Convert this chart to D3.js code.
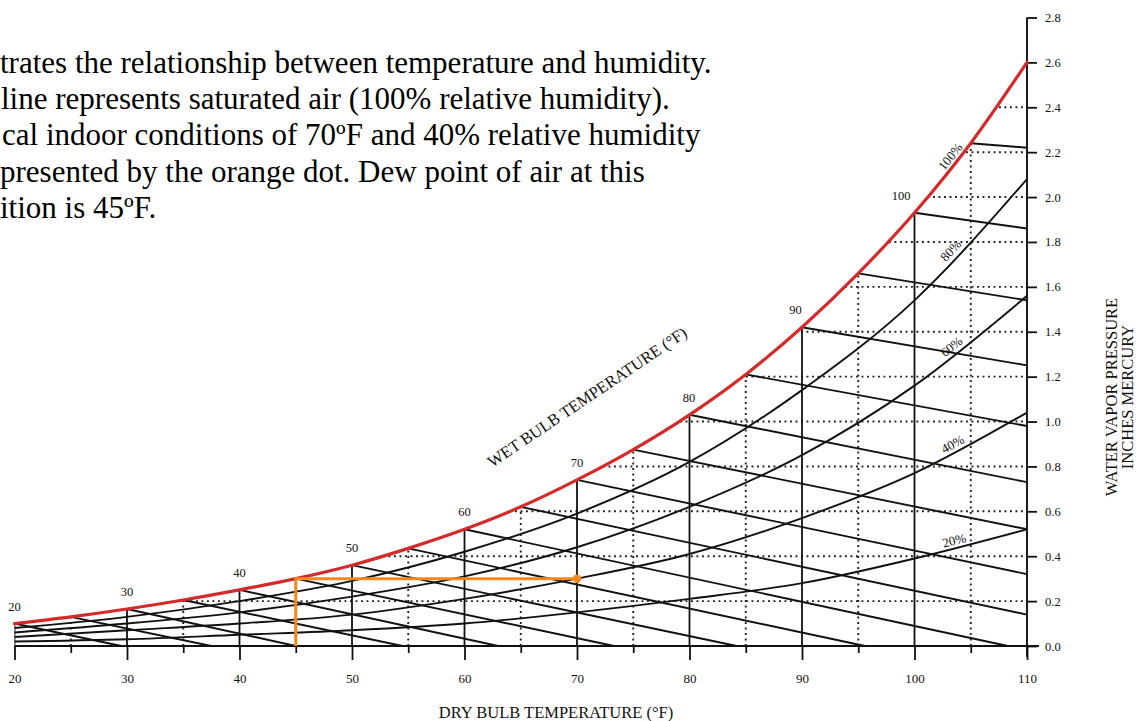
<!DOCTYPE html>
<html>
<head>
<meta charset="utf-8">
<script src="https://cdn.jsdelivr.net/npm/d3@7"></script>
<style>
  body { margin: 0; background: #fff; }
  svg { display: block; font-family: "Liberation Serif", "Times New Roman", serif; }
</style>
</head>
<body>
<svg id="chart" width="1139" height="721"></svg>
<script>
// ---- data ----
const dryBulb    = [20, 25, 30, 35, 40, 45, 50, 55, 60, 65, 70, 75, 80, 85, 90, 95, 100, 105, 110];
const saturation = [0.10, 0.13, 0.165, 0.205, 0.25, 0.30, 0.36, 0.435, 0.52, 0.62, 0.74, 0.875, 1.03, 1.21, 1.42, 1.66, 1.93, 2.24, 2.60];

// relative humidity curves, every 10 °F
const rhTemps = [20, 30, 40, 50, 60, 70, 80, 90, 100, 110];
const rh80 = [0.08, 0.13, 0.20, 0.29, 0.42, 0.59, 0.82, 1.14, 1.54, 2.08];
const rh60 = [0.06, 0.10, 0.15, 0.22, 0.31, 0.44, 0.62, 0.85, 1.16, 1.56];
const rh40 = [0.04, 0.07, 0.10, 0.14, 0.21, 0.30, 0.41, 0.57, 0.77, 1.04];
const rh20 = [0.02, 0.03, 0.05, 0.07, 0.10, 0.15, 0.21, 0.28, 0.39, 0.52];
const rhNames = ["80%", "60%", "40%", "20%"];

// wet bulb lines: start on the saturation curve, end on the base line or the right axis
const wetBulb     = [20, 25, 30, 35, 40, 45, 50, 55, 60, 65, 70, 75, 80, 85, 90, 95, 100, 105];
const wetBulbEndT = [29.5, 37.5, 45, 54.5, 63, 73.3, 84.2, 95.6, 108.3, 110, 110, 110, 110, 110, 110, 110, 110, 110];
const wetBulbEndP = [0, 0, 0, 0, 0, 0, 0, 0, 0, 0.14, 0.32, 0.52, 0.73, 0.98, 1.25, 1.54, 1.86, 2.22];
const wetBulbLabels = [20, 30, 40, 50, 60, 70, 80, 90, 100];

const xMajor = [20, 30, 40, 50, 60, 70, 80, 90, 100, 110];
const xMinor = [25, 35, 45, 55, 65, 75, 85, 95, 105];
const pTicks = [0, 0.2, 0.4, 0.6, 0.8, 1.0, 1.2, 1.4, 1.6, 1.8, 2.0, 2.2, 2.4, 2.6, 2.8];
const pGrid  = [0.2, 0.4, 0.6, 0.8, 1.0, 1.2, 1.4, 1.6, 1.8, 2.0, 2.2, 2.4];

// indoor condition: 70 °F, 40 % RH, dew point 45 °F
const indoorT = 70;
const indoorP = 0.30;
const dewPointT = 45;

const introLines = [
  "trates the relationship between temperature and humidity.",
  "line represents saturated air (100% relative humidity).",
  "cal indoor conditions of 70ºF and 40% relative humidity",
  "presented by the orange dot. Dew point of air at this",
  "ition is 45ºF."
];

// ---- scales ----
const svg = d3.select("#chart");
const x = d3.scaleLinear().domain([20, 110]).range([14.5, 1027]);
const y = d3.scaleLinear().domain([0, 2.8]).range([646, 17.5]);

const satData = dryBulb.map((t, i) => ({ t, p: saturation[i] }));
const rhSeries = [rh80, rh60, rh40, rh20].map(arr => rhTemps.map((t, i) => ({ t, p: arr[i] })));

const line = d3.line().x(d => x(d.t)).y(d => y(d.p)).curve(d3.curveMonotoneX);
const ink = "#111";

// clip: everything under the saturation curve
svg.append("clipPath").attr("id", "under")
  .append("path")
  .attr("d", d3.area().x(d => x(d.t)).y0(721).y1(d => y(d.p)).curve(d3.curveMonotoneX)(satData));

const grid = svg.append("g").attr("clip-path", "url(#under)");

// dotted horizontal lines
grid.selectAll("line.h").data(pGrid).join("line")
  .attr("x1", x(20)).attr("x2", x(110))
  .attr("y1", d => y(d)).attr("y2", d => y(d))
  .attr("stroke", "#222").attr("stroke-width", 1.9)
  .attr("stroke-dasharray", "1.9,3.6");

// dotted verticals at the 5s
grid.selectAll("line.vm").data(xMinor).join("line")
  .attr("x1", d => x(d)).attr("x2", d => x(d))
  .attr("y1", y(0)).attr("y2", 0)
  .attr("stroke", "#222").attr("stroke-width", 1.9)
  .attr("stroke-dasharray", "1.9,3.6");

// solid verticals at the 10s
grid.selectAll("line.v").data(xMajor.slice(0, -1)).join("line")
  .attr("x1", d => x(d)).attr("x2", d => x(d))
  .attr("y1", y(0)).attr("y2", 0)
  .attr("stroke", ink).attr("stroke-width", 1.8);

// relative humidity curves
svg.selectAll("path.rh").data(rhSeries).join("path")
  .attr("d", line)
  .attr("fill", "none").attr("stroke", ink).attr("stroke-width", 1.9);

// wet bulb lines
svg.selectAll("line.wb").data(wetBulb).join("line")
  .attr("x1", d => x(d))
  .attr("y1", d => y(saturation[dryBulb.indexOf(d)]))
  .attr("x2", (d, i) => x(wetBulbEndT[i]))
  .attr("y2", (d, i) => y(wetBulbEndP[i]))
  .attr("stroke", ink).attr("stroke-width", 1.9);

// axes
const xAxisMajor = d3.axisBottom(x).tickValues(xMajor).tickSize(14).tickPadding(14).tickSizeOuter(0);
const xAxisMinor = d3.axisBottom(x).tickValues(xMinor).tickSize(7).tickFormat("").tickSizeOuter(0);
const yAxis = d3.axisRight(y).tickValues(pTicks).tickSize(10).tickPadding(8).tickFormat(d3.format(".1f"));

function styleAxis(g, size) {
  g.select(".domain").remove();
  g.selectAll(".tick line").attr("stroke", ink).attr("stroke-width", 1.8);
  g.selectAll(".tick text").attr("fill", ink)
    .style("font-family", "'Liberation Serif', 'Times New Roman', serif")
    .style("font-size", size + "px");
}

svg.append("g").attr("transform", `translate(0,${y(0)})`).call(xAxisMajor).call(g => styleAxis(g, 13));
svg.append("g").attr("transform", `translate(0,${y(0)})`).call(xAxisMinor).call(g => styleAxis(g, 13));
svg.append("g").attr("transform", `translate(${x(110)},0)`).call(yAxis).call(g => styleAxis(g, 12.5));

// base line and right axis line
svg.append("line")
  .attr("x1", x(20)).attr("x2", x(110) + 12)
  .attr("y1", y(0)).attr("y2", y(0))
  .attr("stroke", ink).attr("stroke-width", 1.9);
svg.append("line")
  .attr("x1", x(110)).attr("x2", x(110))
  .attr("y1", y(2.8)).attr("y2", y(0) + 11)
  .attr("stroke", ink).attr("stroke-width", 1.9);

// saturation curve
svg.append("path").datum(satData)
  .attr("d", line)
  .attr("fill", "none").attr("stroke", "#d52a2a").attr("stroke-width", 3.2)
  .attr("stroke-linecap", "round");

// orange: indoor condition and dew point
const orange = "#f5871f";
svg.append("path")
  .attr("d", `M${x(indoorT)},${y(indoorP)}H${x(dewPointT)}V${y(0)}`)
  .attr("fill", "none").attr("stroke", orange).attr("stroke-width", 3);
svg.append("circle")
  .attr("cx", x(indoorT)).attr("cy", y(indoorP)).attr("r", 4.2)
  .attr("fill", orange);

// wet bulb labels along the saturation curve
svg.selectAll("text.wbl").data(wetBulbLabels).join("text")
  .attr("x", d => {
    const i = dryBulb.indexOf(d);
    const s = (y(saturation[i]) - y(saturation[i + 1])) / (x(dryBulb[i + 1]) - x(dryBulb[i]));
    return x(d) - Math.max(0, s - 0.7) * 25;
  })
  .attr("y", d => y(saturation[dryBulb.indexOf(d)]) - 13)
  .attr("text-anchor", "middle")
  .attr("font-size", 12.5).attr("fill", ink)
  .text(d => d);

// percentage labels near the right end of each curve
const labelT = 103.7;
function curveLabel(t0, p0, t1, p1, txt) {
  const f = (labelT - t0) / (t1 - t0);
  const px = x(labelT), py = y(p0 + f * (p1 - p0));
  const ang = Math.atan2(y(p0) - y(p1), x(t1) - x(t0)) * 180 / Math.PI;
  svg.append("text")
    .attr("transform", `translate(${px},${py}) rotate(${-ang})`)
    .attr("dy", -3)
    .attr("text-anchor", "middle")
    .attr("font-size", 13).attr("fill", ink)
    .text(txt);
}
curveLabel(100, saturation[16], 105, saturation[17], "100%");
rhSeries.forEach((s, k) => curveLabel(s[8].t, s[8].p, s[9].t, s[9].p, rhNames[k]));

// axis titles
svg.append("text")
  .attr("x", 556).attr("y", 718)
  .attr("text-anchor", "middle").attr("font-size", 16.5).attr("fill", ink)
  .text("DRY BULB TEMPERATURE (°F)");

svg.append("text")
  .attr("transform", "translate(587,397) rotate(-34)")
  .attr("dy", "0.35em")
  .attr("text-anchor", "middle").attr("font-size", 16.5).attr("fill", ink)
  .text("WET BULB TEMPERATURE (°F)");

svg.append("text")
  .attr("transform", "translate(1117,397) rotate(-90)")
  .attr("text-anchor", "middle").attr("font-size", 16.5).attr("fill", ink)
  .text("WATER VAPOR PRESSURE");
svg.append("text")
  .attr("transform", "translate(1133,397) rotate(-90)")
  .attr("text-anchor", "middle").attr("font-size", 16.5).attr("fill", ink)
  .text("INCHES MERCURY");

// intro text, starting at the left edge like the source
const introX = [0, 1, 2, 0, 0];
svg.selectAll("text.intro").data(introLines).join("text")
  .attr("x", (d, i) => introX[i])
  .attr("y", (d, i) => 73 + i * 36.2)
  .attr("font-size", 31).attr("fill", "#000")
  .text(d => d);
</script>
</body>
</html>
